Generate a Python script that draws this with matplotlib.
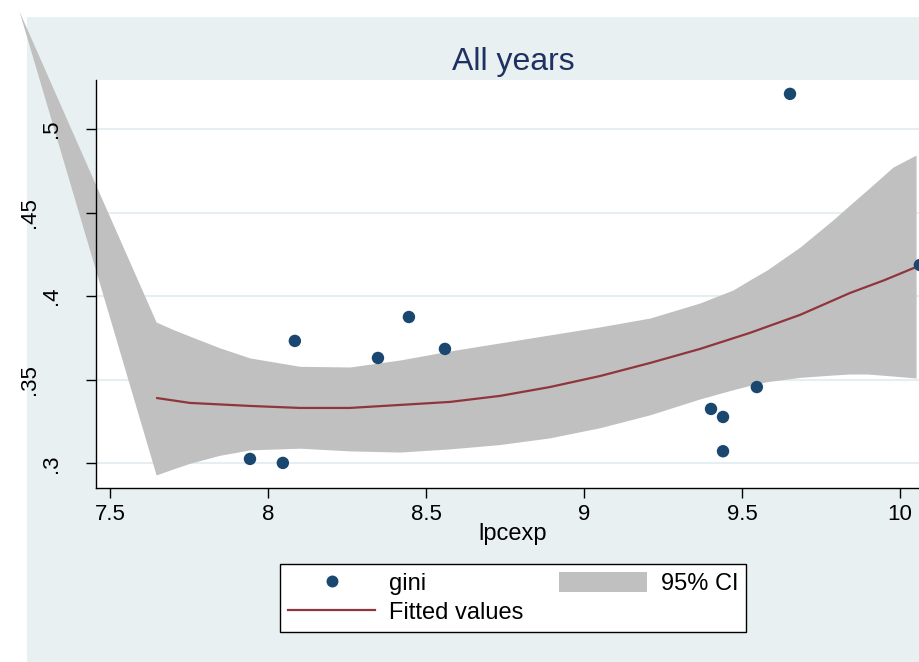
import matplotlib
matplotlib.use("Agg")
import matplotlib.pyplot as plt
from matplotlib.patches import Rectangle, Patch
from matplotlib.lines import Line2D

plt.rcParams['font.family'] = ['Liberation Sans', 'DejaVu Sans']

# ---- data ----
gini_x = [7.943, 8.047, 8.085, 8.348, 8.446, 8.560, 9.402, 9.440, 9.440, 9.547, 9.652, 10.063]
gini_y = [0.3026, 0.3002, 0.3732, 0.3630, 0.3875, 0.3684, 0.3325, 0.3277, 0.3072, 0.3456, 0.5210, 0.4186]

fit_x = [7.646, 7.753, 7.943, 8.101, 8.259, 8.418, 8.576, 8.734, 8.892, 9.051,
         9.209, 9.367, 9.525, 9.684, 9.842, 9.950, 10.051]
fit_y = [0.3391, 0.3361, 0.3343, 0.3331, 0.3331, 0.3349, 0.3367, 0.3403, 0.3456, 0.3522,
         0.3600, 0.3684, 0.3780, 0.3888, 0.4019, 0.4095, 0.4174]

ci_x = [7.212, 7.646, 7.700, 7.753, 7.848, 7.943, 8.101, 8.259, 8.418, 8.576, 8.734, 8.892,
        9.051, 9.209, 9.367, 9.472, 9.525, 9.579, 9.684, 9.788, 9.842, 9.896, 9.978, 10.051]
ci_hi = [0.5706, 0.3845, 0.3800, 0.3760, 0.3690, 0.3630, 0.3580, 0.3576, 0.3618, 0.3672, 0.3720, 0.3768,
         0.3816, 0.3869, 0.3959, 0.4037, 0.4097, 0.4156, 0.4294, 0.4456, 0.4546, 0.4635, 0.4772, 0.4844]
ci_lo = [0.5706, 0.2930, 0.2966, 0.3000, 0.3048, 0.3080, 0.3090, 0.3074, 0.3067, 0.3086, 0.3112, 0.3152,
         0.3213, 0.3290, 0.3385, 0.3440, 0.3466, 0.3488, 0.3514, 0.3528, 0.3534, 0.3534, 0.3522, 0.3510]

title = "All years"
xlabel = "lpcexp"
xticks = [7.5, 8, 8.5, 9, 9.5, 10]
xtick_labels = ["7.5", "8", "8.5", "9", "9.5", "10"]
yticks_major = [0.3, 0.4, 0.5]
ytick_major_labels = [".3", ".4", ".5"]
yticks_minor = [0.35, 0.45]
ytick_minor_labels = [".35", ".45"]
legend_labels = ["gini", "Fitted values", "95% CI"]

# ---- styles ----
BG = '#e9f0f2'
NAVY = '#1a476f'
MAROON = '#90353b'
CIGRAY = '#c0c0c0'
GRID = '#e6eef1'

W, H = 919, 662
fig = plt.figure(figsize=(W / 100, H / 100), dpi=100)
fig.patch.set_facecolor('white')
fig.patches.append(Rectangle((27 / W, 0), 1 - 27 / W, 1 - 17 / H, transform=fig.transFigure,
                             facecolor=BG, edgecolor='none', zorder=-10))

ax = fig.add_axes([96 / W, 1 - 488 / H, (930 - 96) / W, (488 - 80) / H])
ax.set_facecolor('white')
ax.set_xlim(7.4557, 10.095)
ax.set_ylim(0.2852, 0.5293)

# grid lines under the band
for yv in yticks_major + yticks_minor:
    ax.axhline(yv, color=GRID, lw=1.5, zorder=0.5)

ax.fill_between(ci_x, ci_lo, ci_hi, color=CIGRAY, lw=0, clip_on=False, zorder=1)
ax.plot(fit_x, fit_y, color=MAROON, lw=1.6, zorder=3, solid_capstyle='butt')
ax.scatter(gini_x, gini_y, s=80, color=NAVY, edgecolors='none', zorder=4)

for s in ['top', 'right']:
    ax.spines[s].set_visible(False)
for s in ['left', 'bottom']:
    ax.spines[s].set_color('black')
    ax.spines[s].set_linewidth(1.0)
    ax.spines[s].set_zorder(5)

ax.set_xticks(xticks)
ax.set_xticklabels(xtick_labels)
ax.set_yticks(yticks_major)
ax.set_yticklabels(ytick_major_labels, rotation=90, va='center')
ax.set_yticks(yticks_minor, minor=True)
ax.set_yticklabels(ytick_minor_labels, minor=True, rotation=90, va='center')

ax.tick_params(axis='both', which='both', direction='out', length=7.2, width=1.0,
               color='black', labelsize=16, labelcolor='black')
ax.tick_params(axis='x', pad=4)
ax.tick_params(axis='y', which='major', pad=17)
ax.tick_params(axis='y', which='minor', pad=33)
ax.grid(False)

ax.set_title(title, fontsize=23, color='#1e3160', pad=7.5)
fig.text(513 / W, 1 - 540 / H, xlabel, fontsize=17, ha='center', va='baseline', color='black')

handles = [
    Line2D([], [], marker='o', ls='none', markersize=8.6, color=NAVY, markeredgewidth=0),
    Line2D([], [], color=MAROON, lw=1.6),
    Patch(facecolor=CIGRAY, edgecolor='none'),
]
leg = fig.legend(handles, legend_labels, ncol=2, loc='center',
                 bbox_to_anchor=(513 / W, 1 - 598 / H), fontsize=17,
                 frameon=True, fancybox=False, edgecolor='black', facecolor='white',
                 framealpha=1, handlelength=3.7, handleheight=0.97, handletextpad=0.6,
                 columnspacing=1.5, labelspacing=0.25, borderpad=0.32, borderaxespad=0)
leg.get_frame().set_linewidth(1.0)

fig.savefig("out.png", dpi=100, facecolor=fig.get_facecolor())
